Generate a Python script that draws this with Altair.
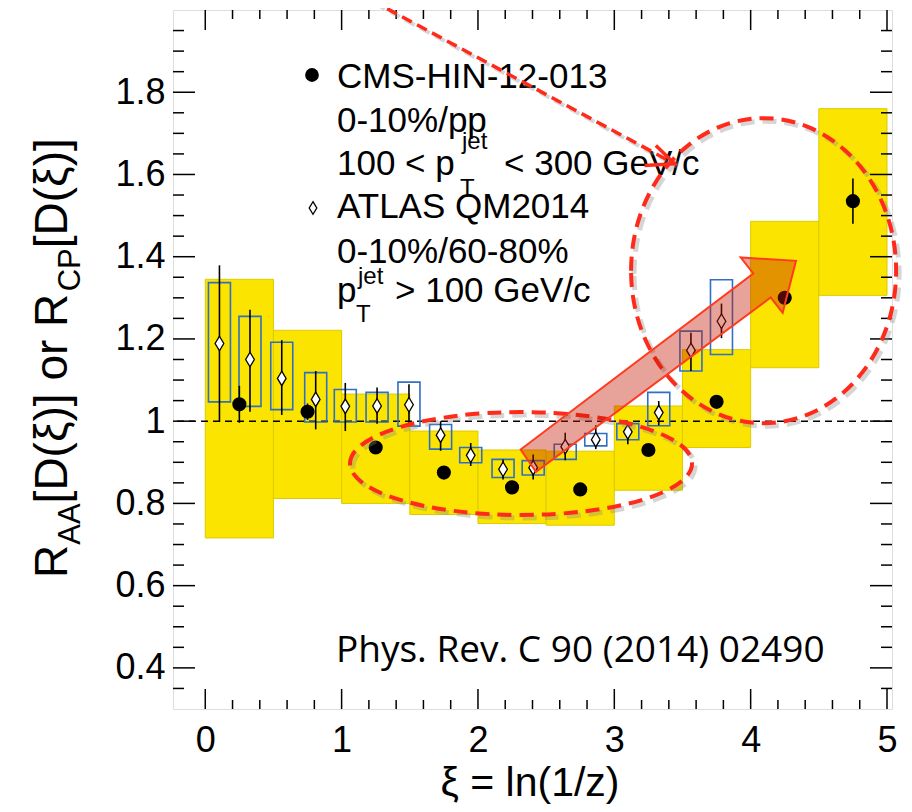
import altair as alt
import pandas as pd

# ---------------- data ----------------
# CMS-HIN-12-013 (0-10%/pp), bins of width 0.5
cms_bin_lo = [0.0, 0.5, 1.0, 1.5, 2.0, 2.5, 3.0, 3.5, 4.0, 4.5]
cms_bin_hi = [0.5, 1.0, 1.5, 2.0, 2.5, 3.0, 3.5, 4.0, 4.5, 5.0]
cms_x = [0.25, 0.75, 1.25, 1.75, 2.25, 2.75, 3.25, 3.75, 4.25, 4.75]
cms_y = [1.041, 1.023, 0.936, 0.875, 0.839, 0.834, 0.930, 1.047, 1.300, 1.535]
cms_stat = [0.045, 0.02, 0.01, 0.01, 0.01, 0.01, 0.01, 0.01, 0.012, 0.055]
cms_sys_lo = [0.716, 0.812, 0.800, 0.773, 0.751, 0.747, 0.832, 0.936, 1.130, 1.306]
cms_sys_hi = [1.345, 1.221, 1.066, 0.976, 0.930, 0.927, 1.037, 1.174, 1.486, 1.760]

# ATLAS QM2014 (0-10%/60-80%)
atlas_x = [0.104, 0.328, 0.561, 0.810, 1.027, 1.260, 1.494, 1.726, 1.947,
           2.184, 2.405, 2.640, 2.864, 3.099, 3.326, 3.562, 3.786]
atlas_y = [1.189, 1.150, 1.104, 1.053, 1.036, 1.037, 1.040, 0.966, 0.917,
           0.883, 0.887, 0.938, 0.955, 0.974, 1.021, 1.172, 1.243]
atlas_err_lo = [0.998, 1.023, 1.015, 0.980, 0.976, 0.994, 0.996, 0.928, 0.891,
                0.858, 0.858, 0.905, 0.932, 0.944, 0.990, 1.122, 1.202]
atlas_err_hi = [1.379, 1.271, 1.197, 1.122, 1.093, 1.082, 1.090, 1.000, 0.947,
                0.907, 0.919, 0.972, 0.990, 0.996, 1.049, 1.215, 1.286]
atlas_sys_lo = [1.047, 1.036, 1.028, 0.998, 0.998, 0.998, 0.988, 0.932, 0.899,
                0.863, 0.869, 0.907, 0.940, 0.955, 0.989, 1.122, 1.162]
atlas_sys_hi = [1.337, 1.255, 1.192, 1.118, 1.077, 1.070, 1.095, 0.992, 0.936,
                0.907, 0.904, 0.944, 0.970, 0.994, 1.070, 1.219, 1.344]

# axis ticks
x_major = [0, 1, 2, 3, 4, 5]
x_minor = [0.2, 0.4, 0.6, 0.8, 1.2, 1.4, 1.6, 1.8, 2.2, 2.4, 2.6, 2.8,
           3.2, 3.4, 3.6, 3.8, 4.2, 4.4, 4.6, 4.8]
y_major = [0.4, 0.6, 0.8, 1.0, 1.2, 1.4, 1.6, 1.8]
y_minor = [0.35, 0.45, 0.5, 0.55, 0.65, 0.7, 0.75, 0.85, 0.9, 0.95, 1.05, 1.1,
           1.15, 1.25, 1.3, 1.35, 1.45, 1.5, 1.55, 1.65, 1.7, 1.75, 1.85, 1.9, 1.95]
ref_line = [1.0]

# annotations (slide overlay): centres / anchors in data units
ellipse_low = {"x": 2.316, "y": 0.897}
ellipse_high = {"x": 4.095, "y": 1.366}
big_arrow_tail = {"x": 2.369, "y": 0.904}
dash_arrow_x = [1.224, 3.442]
dash_arrow_y = [2.023, 1.626]

# ---------------- chart ----------------
W, H = 719, 699
FONT = "Liberation Sans"
RED = "#FF2A1A"
SHADOW = "#8a8a8a"
# a 3-pixel drop-shadow offset expressed in data units
SDX, SDY = 3 / 138.3, -3 / 411.6

xs = alt.Scale(domain=[-0.2, 5.0], nice=False, zero=False)
ys = alt.Scale(domain=[0.3, 2.0], nice=False, zero=False)
xaxis = alt.Axis(values=x_major, format="~g", ticks=False, domain=False, grid=False,
                 labelFont=FONT, labelFontSize=36, labelColor="black",
                 labelPadding=14, title=None, labelFlush=False)
yaxis = alt.Axis(values=y_major, format="~g", ticks=False, domain=False, grid=False,
                 labelFont=FONT, labelFontSize=36, labelColor="black",
                 labelPadding=8, title=None)


def X(f):
    return alt.X(f, type="quantitative", scale=xs, axis=xaxis)


def Y(f):
    return alt.Y(f, type="quantitative", scale=ys, axis=yaxis)


cms = pd.DataFrame({"lo": cms_bin_lo, "hi": cms_bin_hi, "x": cms_x, "y": cms_y,
                    "e": cms_stat, "slo": cms_sys_lo, "shi": cms_sys_hi})
cms["elo"] = cms["y"] - cms["e"]
cms["ehi"] = cms["y"] + cms["e"]
atl = pd.DataFrame({"x": atlas_x, "y": atlas_y, "elo": atlas_err_lo, "ehi": atlas_err_hi,
                    "slo": atlas_sys_lo, "shi": atlas_sys_hi})

layers = []

# CMS systematic boxes
layers.append(alt.Chart(cms).mark_rect(fill="#FAE400", stroke="#DCCB00", strokeWidth=1).encode(
    x=X("lo"), x2="hi", y=Y("slo"), y2="shi"))

# dashed line at 1
layers.append(alt.Chart(pd.DataFrame({"v": ref_line})).mark_rule(
    color="black", strokeWidth=1.5, strokeDash=[7, 5]).encode(y=Y("v")))

# ATLAS systematic boxes
layers.append(alt.Chart(atl).mark_bar(width=22, fillOpacity=0, stroke="#2F70C4",
                                       strokeWidth=1.6).encode(
    x=X("x"), y=Y("slo"), y2="shi"))

# error bars
layers.append(alt.Chart(atl).mark_rule(color="black", strokeWidth=1.6).encode(
    x=X("x"), y=Y("elo"), y2="ehi"))
layers.append(alt.Chart(cms).mark_rule(color="black", strokeWidth=1.6).encode(
    x=X("x"), y=Y("elo"), y2="ehi"))

DIAMOND = "M0,-1L0.6,0L0,1L-0.6,0Z"
layers.append(alt.Chart(atl).mark_point(shape=DIAMOND, size=210, filled=True, fill="white",
                                         stroke="black", strokeWidth=1.3, opacity=1).encode(
    x=X("x"), y=Y("y")))
layers.append(alt.Chart(cms).mark_point(shape="circle", size=200, filled=True, color="black",
                                         opacity=1).encode(x=X("x"), y=Y("y")))


# ticks (inward, ROOT style) on all four sides
def xticks(vals, length):
    d = pd.DataFrame({"v": vals})
    b = alt.Chart(d).mark_rule(color="black", strokeWidth=1.5).encode(
        x=X("v"), y=alt.value(H), y2=alt.value(H - length))
    t = alt.Chart(d).mark_rule(color="black", strokeWidth=1.5).encode(
        x=X("v"), y=alt.value(0), y2=alt.value(length))
    return [b, t]


def yticks(vals, length):
    d = pd.DataFrame({"v": vals})
    l = alt.Chart(d).mark_rule(color="black", strokeWidth=1.5).encode(
        y=Y("v"), x=alt.value(0), x2=alt.value(length))
    r = alt.Chart(d).mark_rule(color="black", strokeWidth=1.5).encode(
        y=Y("v"), x=alt.value(W), x2=alt.value(W - length))
    return [l, r]


layers += xticks(x_major, 20) + xticks(x_minor, 9)
layers += yticks(y_major, 22) + yticks(y_minor, 11)


def txt(s, x, y, size, font=FONT, angle=0, align="left", color="black"):
    return alt.Chart(pd.DataFrame({"t": [s]})).mark_text(
        font=font, fontSize=size, angle=angle, align=align, baseline="alphabetic",
        color=color).encode(text="t:N", x=alt.value(x), y=alt.value(y))


# legend
LF = 35
SF = 24
layers.append(alt.Chart(pd.DataFrame({"t": [0]})).mark_point(
    shape="circle", size=190, filled=True, color="black", opacity=1).encode(
    x=alt.value(139), y=alt.value(65)))
layers.append(alt.Chart(pd.DataFrame({"t": [0]})).mark_point(
    shape=DIAMOND, size=160, filled=True, fill="white", stroke="black", strokeWidth=1.3,
    opacity=1).encode(x=alt.value(140), y=alt.value(198)))
layers += [
    txt("CMS-HIN-12-013", 164, 78, LF),
    txt("0-10%/pp", 164, 122, LF),
    txt("100 < p", 164, 165, LF),
    txt("jet", 289, 139, SF),
    txt("T", 287, 186, SF),
    txt("< 300 GeV/c", 331, 165, LF),
    txt("ATLAS QM2014", 164, 208, LF),
    txt("0-10%/60-80%", 164, 253, LF),
    txt("p", 164, 292, LF),
    txt("jet", 185, 274, SF),
    txt("T", 183, 312, SF),
    txt("> 100 GeV/c", 222, 292, LF),
    txt("Phys. Rev. C 90 (2014) 02490", 163, 652, 37, font="Open Sans"),
]

# axis titles
layers.append(txt("ξ = ln(1/z)", 357, 786, 41, align="center"))
YT, YS = 46, 31
bx, sx = -106, -93
layers += [
    txt("R", bx, 568, YT, angle=270),
    txt("AA", sx, 534.8, YS, angle=270),
    txt("[D(ξ)] or R", bx, 493.4, YT, angle=270),
    txt("CP", sx, 281.3, YS, angle=270),
    txt("[D(ξ)]", bx, 238.2, YT, angle=270),
]

# ---- slide annotations ----
ELL1 = "M-1,0A1,0.301 0 1,1 1,0A1,0.301 0 1,1 -1,0Z"
ELL2 = "M-0.869,0A0.869,1 0 1,1 0.869,0A0.869,1 0 1,1 -0.869,0Z"
for c, path, sz in [(ellipse_low, ELL1, 342 ** 2), (ellipse_high, ELL2, 305 ** 2)]:
    sh = {"x": c["x"] + SDX, "y": c["y"] + SDY}
    layers.append(alt.Chart(pd.DataFrame([sh])).mark_point(
        shape=path, size=sz, filled=False, stroke=SHADOW, strokeWidth=5,
        strokeDash=[14, 8], opacity=0.35).encode(x=X("x"), y=Y("y")))
    layers.append(alt.Chart(pd.DataFrame([c])).mark_point(
        shape=path, size=sz, filled=False, stroke=RED, strokeWidth=4,
        strokeDash=[14, 8], opacity=1).encode(x=X("x"), y=Y("y")))

ARROW = ("M-7.6,-11.2L225,-187.2L212.4,-203.2L267.7,-199.8L254.4,-147.8"
         "L242.4,-163.2L7.7,11.2Z")
layers.append(alt.Chart(pd.DataFrame([big_arrow_tail])).mark_point(
    shape=ARROW, size=4, filled=True, fill="#C41800", fillOpacity=0.4, stroke="#FF3B1F",
    strokeWidth=2, opacity=1).encode(x=X("x"), y=Y("y")))

dash_df = pd.DataFrame({"x": dash_arrow_x, "y": dash_arrow_y})
layers.append(alt.Chart(dash_df).transform_calculate(
    x=f"datum.x + {SDX}", y=f"datum.y + {SDY}").mark_line(
    color=SHADOW, strokeWidth=4, strokeDash=[11, 6], opacity=0.35).encode(
    x=X("x"), y=Y("y")))
layers.append(alt.Chart(dash_df).mark_line(
    color=RED, strokeWidth=3.5, strokeDash=[11, 6]).encode(x=X("x"), y=Y("y")))
HEAD = "M-18.7,-18.3L0,0L-30,1.7"
layers.append(alt.Chart(pd.DataFrame({"x": [dash_arrow_x[1]], "y": [dash_arrow_y[1]]})).mark_point(
    shape=HEAD, size=4, filled=False, stroke=RED, strokeWidth=3.5, opacity=1).encode(
    x=X("x"), y=Y("y")))

chart = alt.layer(*layers).properties(
    width=W, height=H,
    autosize=alt.AutoSizeParams(type="none"),
    padding={"left": 165, "top": 2, "right": 12, "bottom": 103},
).configure_view(stroke="black", strokeWidth=1.5).configure(background="white")

chart.save("out.html", embed_options={"renderer": "svg", "actions": False})
